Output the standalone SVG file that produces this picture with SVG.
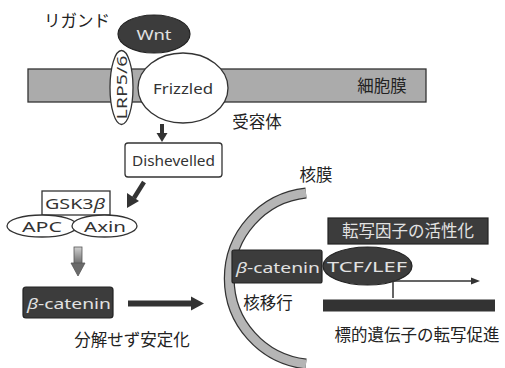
<svg xmlns="http://www.w3.org/2000/svg" width="505" height="368" viewBox="0 0 505 368">
<defs>
<style>
.jp{font-family:"Noto Sans CJK JP","Noto Sans",sans-serif;fill:#222;font-size:16.5px}
.lat{font-family:"Noto Sans","DejaVu Sans",sans-serif;font-size:15px;fill:#333}
.inv{fill:#e2e2e2}
.dark{fill:#3c3c3c;stroke:#222;stroke-width:1.2}
.white{fill:#fff;stroke:#333;stroke-width:1.3}
.conn{stroke:#333;fill:none}
</style>
<linearGradient id="gg" x1="0" y1="0" x2="0" y2="1">
<stop offset="0" stop-color="#d0d0d0"/>
<stop offset="1" stop-color="#6a6a6a"/>
</linearGradient>
</defs>
<rect width="505" height="368" fill="#fff"/>

<g id="membrane">
<rect x="28" y="69" width="398" height="33" fill="#ababab" stroke="#333" stroke-width="1.3"/>
<text class="jp" x="382" y="92" text-anchor="middle">細胞膜</text>
</g>

<g id="lrp">
<ellipse cx="121.5" cy="87.5" rx="11.5" ry="37" class="white"/>
<text class="lat" x="0" y="0" font-size="15" text-anchor="middle" textLength="64" lengthAdjust="spacingAndGlyphs" transform="translate(127 87.5) rotate(-90)">LRP5/6</text>
</g>

<g id="frizzled">
<ellipse cx="183" cy="88" rx="45" ry="35" class="white"/>
<text class="lat" x="183" y="94" font-size="16" text-anchor="middle" textLength="60" lengthAdjust="spacingAndGlyphs">Frizzled</text>
</g>

<g id="wnt">
<ellipse cx="154" cy="34" rx="36" ry="19" class="dark"/>
<text class="lat inv" x="154" y="39.5" font-size="15" text-anchor="middle" textLength="35" lengthAdjust="spacingAndGlyphs">Wnt</text>
</g>

<text class="jp" x="77" y="27" text-anchor="middle" font-size="16">リガンド</text>
<text class="jp" x="257" y="128" text-anchor="middle">受容体</text>

<g id="dishevelled">
<rect x="125" y="143" width="97" height="34" rx="3" class="white"/>
<text class="lat" x="173.5" y="165.5" font-size="16" text-anchor="middle" textLength="83" lengthAdjust="spacingAndGlyphs">Dishevelled</text>
</g>

<g id="gsk3b">
<rect x="42" y="191" width="68" height="24" class="white"/>
<text class="lat" x="75" y="209" font-size="16" text-anchor="middle" textLength="60" lengthAdjust="spacingAndGlyphs">GSK3<tspan font-style="italic">β</tspan></text>
</g>
<g id="apc">
<ellipse cx="42" cy="226" rx="35" ry="11" class="white"/>
<text class="lat" x="42" y="231.5" font-size="15" text-anchor="middle" textLength="40" lengthAdjust="spacingAndGlyphs">APC</text>
</g>
<g id="axin">
<ellipse cx="104.5" cy="226" rx="32.5" ry="11" class="white"/>
<text class="lat" x="105" y="231.5" font-size="15" text-anchor="middle" textLength="42" lengthAdjust="spacingAndGlyphs">Axin</text>
</g>

<g id="bcat-cyto">
<rect x="23" y="287" width="90" height="31" rx="3" class="dark"/>
<text class="lat inv" x="69" y="308.5" font-size="16" text-anchor="middle" textLength="84" lengthAdjust="spacingAndGlyphs"><tspan font-style="italic">β</tspan>-catenin</text>
</g>
<text class="jp" x="132" y="346" text-anchor="middle" font-size="17">分解せず安定化</text>

<g id="nuclear-envelope">
<path d="M306 193 A86 86 0 0 0 306 364" fill="none" stroke="#333" stroke-width="11"/>
<path d="M306 193 A86 86 0 0 0 306 364" fill="none" stroke="#b5b5b5" stroke-width="8.5"/>
</g>
<text class="jp" x="316" y="181" text-anchor="middle" font-size="17">核膜</text>

<g id="activation">
<rect x="328" y="218" width="160" height="26" class="dark"/>
<text class="jp inv" x="408" y="237" text-anchor="middle" font-size="17">転写因子の活性化</text>
</g>

<g id="bcat-nuc">
<rect x="232" y="250" width="90" height="33" rx="2" class="dark"/>
<text class="lat inv" x="278" y="272.5" font-size="16" text-anchor="middle" textLength="84" lengthAdjust="spacingAndGlyphs"><tspan font-style="italic">β</tspan>-catenin</text>
</g>
<g id="tcf">
<ellipse cx="367.5" cy="266" rx="44.5" ry="19" class="dark"/>
<text class="lat inv" x="367" y="271.5" font-size="15" text-anchor="middle" textLength="80" lengthAdjust="spacingAndGlyphs">TCF/LEF</text>
</g>
<text class="jp" x="268" y="309" text-anchor="middle" font-size="17">核移行</text>

<g id="gene">
<rect x="323" y="299.5" width="172" height="12" fill="#333"/>
</g>
<text class="jp" x="417" y="341" text-anchor="middle" font-size="17">標的遺伝子の転写促進</text>

<g id="connectors">
<line x1="162" y1="124" x2="162" y2="134" class="conn" stroke-width="4"/>
<polygon points="156.5,133 167.5,133 162,142" fill="#333"/>
<line x1="144" y1="182" x2="134" y2="198" class="conn" stroke-width="4.5"/>
<polygon points="127,193 139,201 127,208" fill="#333"/>
<rect x="74" y="247" width="8" height="17" fill="url(#gg)" stroke="#555" stroke-width="0.8"/>
<polygon points="71,263 85,263 78,276" fill="#6a6a6a" stroke="#555" stroke-width="0.8"/>
<line x1="128" y1="303.5" x2="193" y2="303.5" class="conn" stroke-width="6"/>
<polygon points="191,296.5 204,303.5 191,310.5" fill="#333"/>
<polyline points="393,298 393,281 472,281" class="conn" stroke-width="1.5"/>
<polygon points="471,277.5 480,281 471,284.5" fill="#333"/>
</g>
</svg>
